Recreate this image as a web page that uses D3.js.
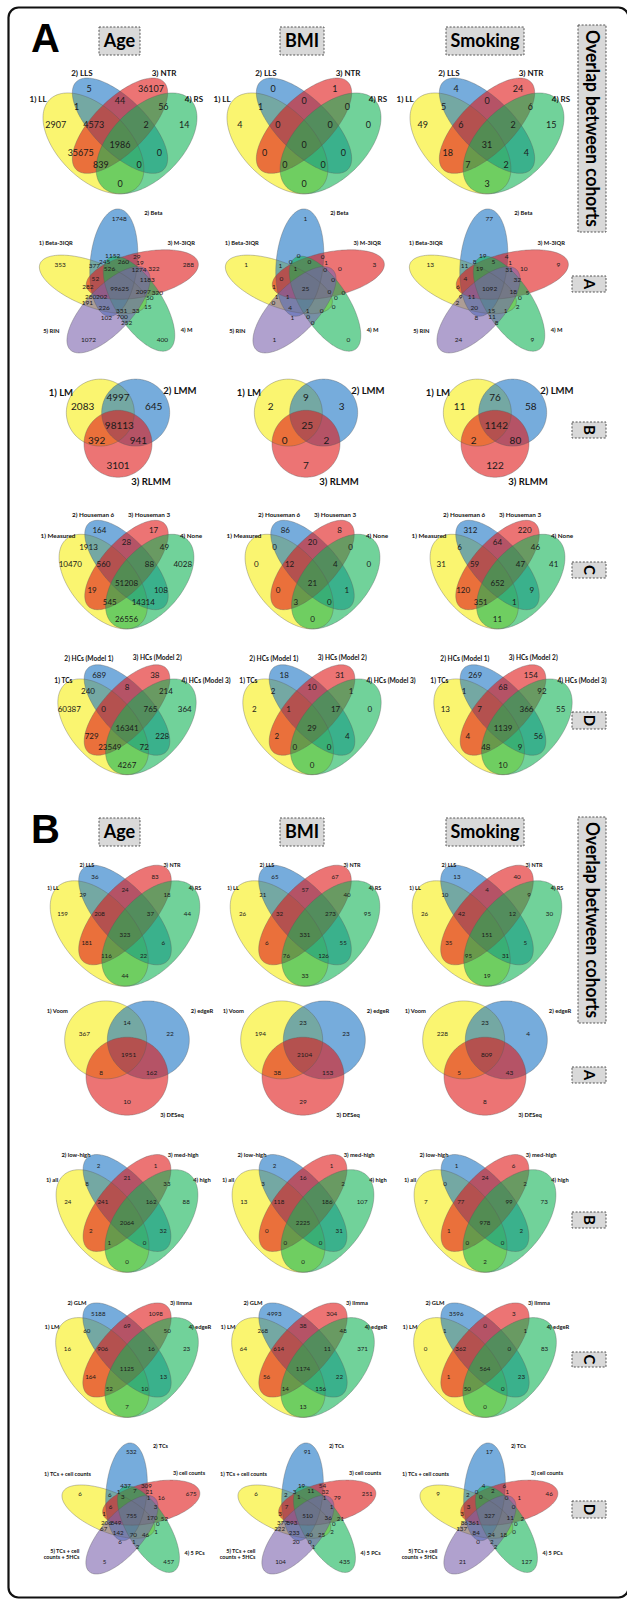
<!DOCTYPE html>
<html><head><meta charset="utf-8">
<script src="https://cdn.jsdelivr.net/npm/d3@7"></script>
<style>body{margin:0;background:#fff}svg{display:block}</style>
</head><body>
<svg id="c" width="627" height="1600"></svg>
<script>
// ================= DATA =================
const panelLetters = ["A", "B"];
const columns = ["Age", "BMI", "Smoking"];
const sideTitle = "Overlap between cohorts";
const sideLetters = ["A", "B", "C", "D"];

// Panel A, row 1 : cohorts (4 sets)
const a1Sets = ["1) LL", "2) LLS", "3) NTR", "4) RS"];
const a1Age = [5, 36107, 1, 44, 56, 2907, 4573, 2, 14, 1986, 35675, 0, 839, 0, 0];
const a1BMI = [0, 1, 1, 0, 0, 4, 0, 0, 0, 0, 0, 0, 0, 0, 0];
const a1Smoking = [4, 24, 5, 0, 6, 49, 6, 2, 15, 31, 18, 4, 7, 2, 3];

// Panel A, row 2 : normalization (5 sets)
const a2Sets = ["1) Beta-3IQR", "2) Beta", "3) M-3IQR", "4) M", "5) RIN"];
const a2Age = [1748, 353, 288, 1072, 400, 1152, 29, 377, 245, 260, 19, 526, 1274, 322, 52, 1183, 282, 99625, 2097, 320, 202, 280, 50, 191, 15, 226, 331, 33, 102, 700, 252];
const a2BMI = [1, 1, 3, 1, 0, 0, 0, 1, 0, 0, 1, 1, 0, 0, 0, 0, 1, 25, 0, 0, 1, 1, 0, 0, 0, 4, 1, 0, 1, 0, 0];
const a2Smoking = [77, 13, 9, 24, 9, 19, 4, 11, 8, 5, 1, 19, 31, 10, 4, 32, 6, 1092, 18, 5, 11, 9, 0, 2, 2, 20, 15, 1, 8, 11, 8];

// Panel A, row 3 : models (3 sets)
const a3Sets = ["1) LM", "2) LMM", "3) RLMM"];
const a3Age = [2083, 4997, 645, 98113, 392, 941, 3101];
const a3BMI = [2, 9, 3, 25, 0, 2, 7];
const a3Smoking = [11, 76, 58, 1142, 2, 80, 122];

// Panel A, row 4 : cell counts (4 sets)
const a4Sets = ["1) Measured", "2) Houseman 6", "3) Houseman 3", "4) None"];
const a4Age = [164, 17, 1913, 28, 49, 10470, 560, 88, 4028, 51208, 19, 108, 545, 14314, 26556];
const a4BMI = [86, 8, 0, 20, 0, 0, 12, 4, 0, 21, 0, 1, 3, 0, 0];
const a4Smoking = [312, 220, 6, 64, 46, 31, 59, 47, 41, 652, 120, 9, 351, 1, 11];

// Panel A, row 5 : batch correction (4 sets)
const a5Sets = ["1) TCs", "2) HCs (Model 1)", "3) HCs (Model 2)", "4) HCs (Model 3)"];
const a5Age = [689, 38, 240, 8, 214, 60387, 0, 765, 364, 16341, 729, 228, 23549, 72, 4267];
const a5BMI = [18, 31, 2, 10, 1, 2, 1, 17, 0, 29, 2, 4, 0, 0, 0];
const a5Smoking = [269, 154, 1, 68, 92, 13, 7, 366, 55, 1139, 4, 56, 48, 9, 10];

// Panel B, row 1 : cohorts (4 sets)
const b1Sets = ["1) LL", "2) LLS", "3) NTR", "4) RS"];
const b1Age = [36, 83, 29, 24, 18, 159, 208, 37, 44, 323, 181, 6, 116, 22, 44];
const b1BMI = [65, 67, 21, 57, 40, 26, 32, 273, 95, 331, 6, 55, 76, 126, 33];
const b1Smoking = [13, 40, 10, 4, 9, 26, 42, 12, 30, 151, 35, 5, 95, 31, 19];

// Panel B, row 2 : methods (3 sets)
const b2Sets = ["1) Voom", "2) edgeR", "3) DESeq"];
const b2Age = [367, 14, 22, 1951, 8, 162, 10];
const b2BMI = [194, 23, 23, 2104, 38, 153, 29];
const b2Smoking = [228, 23, 4, 809, 5, 43, 8];

// Panel B, row 3 : expression filter (4 sets)
const b3Sets = ["1) all", "2) low-high", "3) med-high", "4) high"];
const b3Age = [2, 1, 8, 21, 33, 24, 241, 162, 88, 2064, 2, 32, 1, 0, 0];
const b3BMI = [2, 1, 3, 16, 2, 13, 118, 186, 107, 2225, 0, 31, 0, 0, 0];
const b3Smoking = [1, 6, 0, 24, 2, 7, 77, 99, 73, 978, 1, 2, 0, 0, 2];

// Panel B, row 4 : models (4 sets)
const b4Sets = ["1) LM", "2) GLM", "3) limma", "4) edgeR"];
const b4Age = [5188, 1098, 60, 69, 50, 16, 906, 16, 23, 1125, 164, 13, 52, 10, 7];
const b4BMI = [4993, 304, 268, 38, 48, 64, 614, 11, 371, 1174, 56, 22, 14, 156, 13];
const b4Smoking = [3596, 3, 1, 0, 1, 0, 362, 0, 83, 564, 1, 23, 50, 0, 0];

// Panel B, row 5 : covariates (5 sets)
const b5Sets = ["1) TCs + cell counts", "2) TCs", "3) cell counts", "4) 5 PCs", "5) TCs + cell\ncounts + 5HCs"];
const b5Age = [532, 6, 675, 5, 457, 437, 309, 6, 1, 7, 21, 3, 1, 16, 6, 3, 1, 755, 170, 52, 849, 206, 0, 67, 1, 142, 70, 46, 6, 1, 2];
const b5BMI = [91, 6, 251, 104, 435, 19, 54, 2, 3, 11, 32, 1, 1, 79, 7, 1, 3, 510, 36, 21, 893, 377, 0, 222, 2, 233, 40, 25, 20, 0, 1];
const b5Smoking = [17, 9, 46, 21, 127, 4, 6, 2, 0, 2, 1, 0, 0, 1, 3, 0, 3, 327, 11, 2, 361, 86, 0, 137, 0, 84, 24, 18, 0, 2, 2];

// ================= LAYOUT =================
const setColors = ["#f7ee10", "#1a74c4", "#e01818", "#12b456", "#7c62ad"];
const FILL_OP = 0.6;
const FONT = "Lato, 'Open Sans', 'DejaVu Sans', sans-serif";

// region label anchors (model units)
const reg4 = [[-0.175,-0.207],[0.175,-0.207],[-0.245,-0.109],[0,-0.138],[0.245,-0.109],
  [-0.363,-0.006],[-0.148,-0.006],[0.148,-0.006],[0.363,-0.006],[0,0.108],
  [-0.222,0.153],[0.222,0.153],[-0.108,0.223],[0.108,0.223],[0,0.327]];
const reg3 = [[-1.04,-0.48],[0,-0.75],[1.05,-0.48],[0.04,0.08],[-0.63,0.53],[0.6,0.53],[0,1.28]];
const reg5 = [[0,-0.436],[-0.356,-0.145],[0.416,-0.145],[-0.186,0.338],[0.26,0.338],
  [-0.04,-0.2],[0.105,-0.196],[-0.15,-0.136],[-0.088,-0.159],[0.024,-0.162],[0.125,-0.156],
  [-0.059,-0.118],[0.119,-0.112],[0.208,-0.115],[-0.144,-0.051],[0.168,-0.048],[-0.189,-0.003],
  [0.002,0.01],[0.145,0.028],[0.23,0.034],[-0.107,0.065],[-0.173,0.06],[0.184,0.07],
  [-0.192,0.102],[0.171,0.129],[-0.091,0.136],[0.014,0.149],[0.099,0.149],[-0.078,0.196],
  [0.017,0.193],[0.044,0.229]];

const ell4 = [
  {x:-0.15, y:0.10, a:0.35, b:0.20, r:45},
  {x:0, y:0, a:0.35, b:0.15, r:45},
  {x:0, y:0, a:0.35, b:0.15, r:135},
  {x:0.15, y:0.10, a:0.35, b:0.20, r:135}];
const ell3 = [
  {x:-0.52, y:-0.31, a:1, b:1, r:0},
  {x:0.52, y:-0.31, a:1, b:1, r:0},
  {x:0, y:0.62, a:1, b:1, r:0}];
const ell5 = [198, 270, 342, 54, 126].map(tip => {
  const ca = (tip - 12) * Math.PI / 180;
  return {x:0.16*Math.cos(ca), y:0.16*Math.sin(ca), a:0.345, b:0.142, r:tip + 5};
});

const rows = [
  {type:4, sets:a1Sets, vals:[a1Age,a1BMI,a1Smoking], cx:[120,304,487], cy:125.7, sx:177, sy:177, num:9, lab:8,
   lp:[[-0.463,-0.147],[-0.215,-0.297],[0.249,-0.297],[0.418,-0.147]]},
  {type:5, sets:a2Sets, vals:[a2Age,a2BMI,a2Smoking], cx:[119.3,305.3,489.3], cy:287, sx:166, sy:156, num:6.5, lab:5.8},
  {type:3, sets:a3Sets, vals:[a3Age,a3BMI,a3Smoking], cx:[118,306,495], cy:423, sx:34, sy:33.5, num:10, lab:9.5,
   lp:[[-1.68,-0.91],[1.82,-0.97],[0.97,1.76]]},
  {type:4, sets:a4Sets, vals:[a4Age,a4BMI,a4Smoking], cx:[126.5,312.5,497.5], cy:565, sx:155, sy:166, num:8, lab:6.3,
   lp:[[-0.442,-0.175],[-0.215,-0.301],[0.145,-0.301],[0.416,-0.175]]},
  {type:4, sets:a5Sets, vals:[a5Age,a5BMI,a5Smoking], cx:[127,312,503], cy:710, sx:159, sy:168, num:8, lab:6.6,
   lp:[[-0.40,-0.173],[-0.24,-0.304],[0.19,-0.31],[0.497,-0.173]]},
  {type:4, sets:b1Sets, vals:[b1Age,b1BMI,b1Smoking], cx:[125,305,487], cy:915, sx:172, sy:185, num:6.2, lab:5.5,
   lp:[[-0.419,-0.146],[-0.221,-0.27],[0.273,-0.27],[0.407,-0.146]]},
  {type:3, sets:b2Sets, vals:[b2Age,b2BMI,b2Smoking], cx:[127,303,485], cy:1052, sx:41, sy:39, num:6.5, lab:5.8,
   lp:[[-1.7,-1.05],[1.83,-1.05],[1.1,1.62]]},
  {type:4, sets:b3Sets, vals:[b3Age,b3BMI,b3Smoking], cx:[127,303,485], cy:1203, sx:163, sy:180, num:6.2, lab:5.8,
   lp:[[-0.46,-0.128],[-0.313,-0.267],[0.344,-0.267],[0.46,-0.128]]},
  {type:4, sets:b4Sets, vals:[b4Age,b4BMI,b4Smoking], cx:[127,303,485], cy:1350, sx:164, sy:175, num:6.2, lab:5.8,
   lp:[[-0.457,-0.131],[-0.305,-0.269],[0.329,-0.269],[0.445,-0.131]]},
  {type:5, sets:b5Sets, vals:[b5Age,b5BMI,b5Smoking], cx:[131.3,307.3,489.3], cy:1514, sx:144, sy:142, num:6.2, lab:5.5}
];
const lab5 = [{x:-0.28,y:-0.28,anchor:"end"},{x:0.15,y:-0.475,anchor:"start"},{x:0.29,y:-0.285,anchor:"start"},
              {x:0.37,y:0.275,anchor:"start"},{x:-0.36,y:0.28,anchor:"end"}];

// ================= DRAW =================
const svg = d3.select("#c");
svg.append("rect").attr("width",627).attr("height",1600).attr("fill","#fff");

// outer frame
svg.append("rect").attr("x",8.5).attr("y",7.5).attr("width",620).attr("height",1590)
  .attr("rx",10).attr("fill","none").attr("stroke","#111").attr("stroke-width",2.2);

function dashedBox(x0, y0, x1, y1){
  svg.append("rect").attr("x",x0).attr("y",y0).attr("width",x1-x0).attr("height",y1-y0)
    .attr("fill","#d9d9d9").attr("stroke","#555").attr("stroke-width",1)
    .attr("stroke-dasharray","2,1.6");
}

const panelOffsets = [0, 791];
const titleBoxes = [[99,140],[280,324],[446,524]];
const sideBoxY = [[[276,292],[422,438],[562,578],[712,729]], [[1067,1083],[1212,1228],[1352,1367],[1501,1518]]];
const vertBoxY = [[25,232],[817,1023]];

panelOffsets.forEach((off, p) => {
  svg.append("text").attr("x",31).attr("y",52+off).text(panelLetters[p])
    .style("font-family","'Liberation Sans', Arial, sans-serif").style("font-weight","bold").style("font-size","40px").attr("fill","#000");
  columns.forEach((c, i) => {
    const [x0,x1] = titleBoxes[i];
    dashedBox(x0, 27+off, x1, 55+off);
    svg.append("text").attr("x",(x0+x1)/2).attr("y",41+off).attr("dy","0.35em").attr("text-anchor","middle")
      .style("font-family",FONT).style("font-weight","bold").style("font-size","18px").text(c);
  });
  const [vy0, vy1] = vertBoxY[p];
  dashedBox(578, vy0, 606, vy1);
  svg.append("text").attr("transform",`translate(592,${(vy0+vy1)/2}) rotate(90)`)
    .attr("text-anchor","middle").attr("dy","0.36em")
    .attr("textLength", vy1-vy0-10).attr("lengthAdjust","spacingAndGlyphs")
    .style("font-family",FONT).style("font-weight","bold").style("font-size","18px").text(sideTitle);
  sideBoxY[p].forEach(([y0,y1], k) => {
    dashedBox(572, y0, 606, y1);
    svg.append("text").attr("transform",`translate(589,${(y0+y1)/2}) rotate(90)`)
      .attr("text-anchor","middle").attr("dy","0.36em")
      .style("font-family",FONT).style("font-weight","bold").style("font-size","15px").text(sideLetters[k]);
  });
});

function ellipsePoints(e){
  const pts = [], r = e.r*Math.PI/180, n = 120;
  for (let i = 0; i < n; i++){
    const t = 2*Math.PI*i/n;
    const px = e.a*Math.cos(t), py = e.b*Math.sin(t);
    pts.push([e.x + px*Math.cos(r) - py*Math.sin(r), e.y + px*Math.sin(r) + py*Math.cos(r)]);
  }
  return pts;
}

rows.forEach(row => {
  const ells = row.type === 4 ? ell4 : row.type === 3 ? ell3 : ell5;
  const regs = row.type === 4 ? reg4 : row.type === 3 ? reg3 : reg5;
  row.cx.forEach((cx, col) => {
    const x = d3.scaleLinear().domain([0,1]).range([cx, cx + row.sx]);
    const y = d3.scaleLinear().domain([0,1]).range([row.cy, row.cy + row.sy]);
    const line = d3.line().x(d => x(d[0])).y(d => y(d[1])).curve(d3.curveCardinalClosed);
    const g = svg.append("g");
    ells.forEach((e, i) => {
      g.append("path").attr("d", line(ellipsePoints(e)))
        .attr("fill", setColors[i]).attr("fill-opacity", FILL_OP)
        .attr("stroke","none");
    });
    ells.forEach((e, i) => {
      g.append("path").attr("d", line(ellipsePoints(e)))
        .attr("fill","none").attr("stroke","#5a5a5a").attr("stroke-opacity",0.6).attr("stroke-width",0.6);
    });
    const vals = row.vals[col];
    g.selectAll("text.n").data(vals).join("text").attr("class","n")
      .attr("x",(d,i) => x(regs[i][0])).attr("y",(d,i) => y(regs[i][1]))
      .attr("dy","0.35em").attr("text-anchor","middle")
      .style("font-family",FONT).style("font-size",row.num+"px").attr("fill","#1a1a1a")
      .text(d => d);
    row.sets.forEach((s, i) => {
      let lx, ly, anchor;
      if (row.type === 5){ lx = lab5[i].x; ly = lab5[i].y; anchor = lab5[i].anchor; }
      else { lx = row.lp[i][0]; ly = row.lp[i][1]; anchor = "middle"; }
      const lines = s.split("\n");
      const t = g.append("text").attr("text-anchor",anchor)
        .style("font-family",FONT).style("font-weight","bold").style("font-size",row.lab+"px").attr("fill","#111");
      lines.forEach((ln, k) => {
        t.append("tspan").attr("x", x(lx))
          .attr("y", y(ly) + (k - (lines.length-1)/2)*row.lab*1.15)
          .attr("dy","0.35em").text(ln);
      });
    });
  });
});
</script>
</body></html>
